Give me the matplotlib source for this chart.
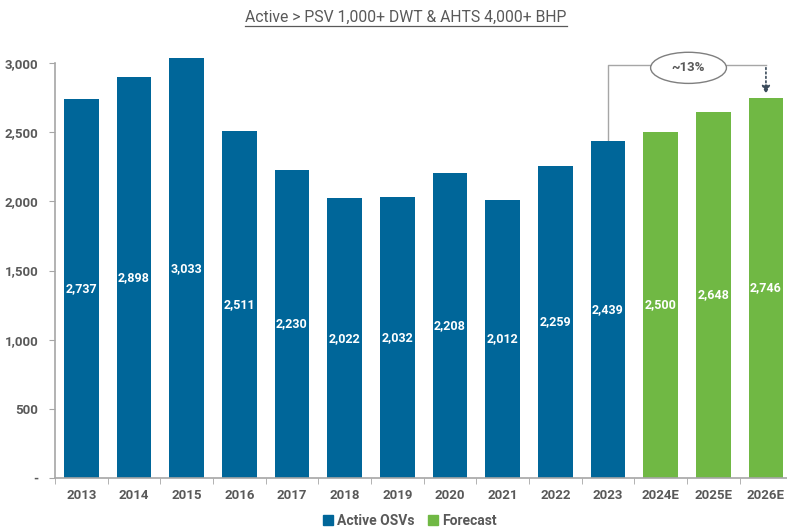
import matplotlib
matplotlib.use("Agg")
import matplotlib.pyplot as plt
from matplotlib.patches import Ellipse, Patch
from matplotlib.lines import Line2D

plt.rcParams['font.family'] = ['Roboto', 'DejaVu Sans']

years = ['2013', '2014', '2015', '2016', '2017', '2018', '2019', '2020', '2021', '2022', '2023', '2024E', '2025E', '2026E']
values = [2737, 2898, 3033, 2511, 2230, 2022, 2032, 2208, 2012, 2259, 2439, 2500, 2648, 2746]
is_forecast = [False] * 11 + [True] * 3
yticks = [0, 500, 1000, 1500, 2000, 2500, 3000]
ytick_labels = ['-', '500', '1,000', '1,500', '2,000', '2,500', '3,000']
title = 'Active > PSV 1,000+ DWT & AHTS 4,000+ BHP'
growth_label = '~13%'

BLUE = '#006699'
GREEN = '#70B844'
GRAY = '#595959'
AXGRAY = '#A6A6A6'

W, H = 787, 532
fig = plt.figure(figsize=(W / 100, H / 100), dpi=100)
left, right = 55, 787
bottom_px, top_px = 478, 21.5
ax = fig.add_axes([left / W, 1 - bottom_px / H, (right - left) / W, (bottom_px - top_px) / H])

x = list(range(len(years)))
colors = [GREEN if f else BLUE for f in is_forecast]
bars = ax.bar(x, values, width=0.66, color=colors, zorder=2)

for xi, v in zip(x, values):
    ax.text(xi, v / 2, f'{v:,}', ha='center', va='center', color='white',
            fontsize=9, fontweight='bold', zorder=3)

ax.set_xlim(-0.5, 13.4)
ax.set_ylim(0, 3300)

for s in ['top', 'right']:
    ax.spines[s].set_visible(False)
ax.spines['left'].set_bounds(0, 3000)
ax.spines['left'].set_color(AXGRAY)
ax.spines['bottom'].set_color(AXGRAY)
ax.spines['left'].set_linewidth(1.2)
ax.spines['bottom'].set_linewidth(1.2)

ax.set_yticks(yticks)
ax.set_yticklabels(ytick_labels)
ax.tick_params(axis='y', colors=AXGRAY, length=4, labelcolor=GRAY, labelsize=9.5, pad=8)
for lbl in ax.get_yticklabels():
    lbl.set_fontweight('bold')

ax.set_xticks(x)
ax.set_xticklabels(years)
ax.tick_params(axis='x', length=0, labelcolor=GRAY, labelsize=9.5, pad=8)
for lbl in ax.get_xticklabels():
    lbl.set_fontweight('bold')
# category boundary ticks
ax.set_xticks([i + 0.5 for i in range(-1, len(years) - 1)], minor=True)
ax.tick_params(axis='x', which='minor', length=4, color=AXGRAY, direction='out')

# annotation bracket
line_y = 2986
x0, x1 = 10.0, 13.0
ecx, ecy = 11.53, 2965
ew, eh = 1.44, 225
ax.plot([x0, x0, ecx - ew / 2], [values[10], line_y, line_y], color=AXGRAY, lw=1, zorder=1, clip_on=False)
ax.plot([ecx + ew / 2, x1], [line_y, line_y], color=AXGRAY, lw=1, zorder=1, clip_on=False)
ax.add_patch(Ellipse((ecx, ecy), ew, eh, facecolor='white', edgecolor='#7F7F7F', lw=1, zorder=4, clip_on=False))
ax.text(ecx, ecy, growth_label, ha='center', va='center', fontsize=9.5, fontweight='bold', color=GRAY, zorder=5)
ax.annotate('', xy=(x1, values[13] + 10), xytext=(x1, line_y),
            arrowprops=dict(arrowstyle='-|>', linestyle=':', color='#3A4A5A', lw=1.2, mutation_scale=12),
            zorder=5, annotation_clip=False)

# title with underline
t = fig.text(406 / W, 1 - 17 / H, title, ha='center', va='center', fontsize=11.3, color=GRAY)
fig.canvas.draw()
bb = t.get_window_extent()
fig.add_artist(Line2D([bb.x0 / W, bb.x1 / W], [(bb.y0 - 1) / H, (bb.y0 - 1) / H], color=GRAY, lw=0.9))

handles = [Patch(color=BLUE, label='Active OSVs'), Patch(color=GREEN, label='Forecast')]
leg = fig.legend(handles=handles, loc='center', bbox_to_anchor=(410 / W, 1 - 521 / H), ncol=2,
                 frameon=False, fontsize=10, handlelength=0.7, handleheight=0.7, handletextpad=0.3, columnspacing=1.0)
for txt in leg.get_texts():
    txt.set_fontweight('bold')
    txt.set_color(GRAY)

fig.savefig('out.png', dpi=100)
